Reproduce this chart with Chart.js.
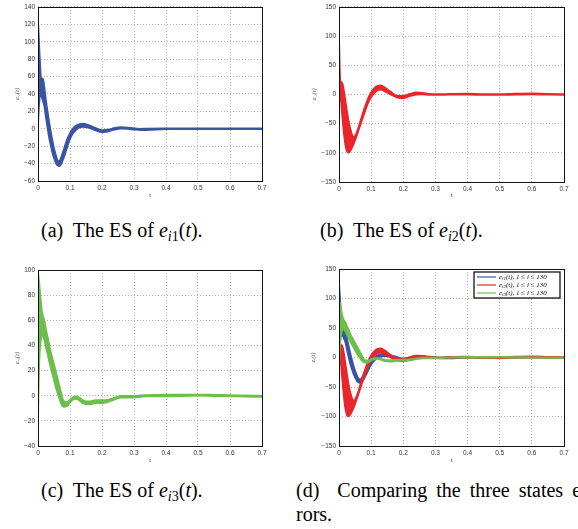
<!DOCTYPE html>
<html>
<head>
<meta charset="utf-8">
<script src="https://cdn.jsdelivr.net/npm/chart.js@4.4.1/dist/chart.umd.min.js"></script>
<style>
body{margin:0;width:578px;height:529px;overflow:hidden;background:#fff;position:relative;font-family:"Liberation Serif","Times New Roman",serif;}
.box{position:absolute}
.cap{position:absolute;font-size:20px;line-height:24px;white-space:nowrap;color:#000}
.cap sub{font-size:14px;vertical-align:-4px;line-height:0}
</style>
</head>
<body>
<div class="box" style="left:0;top:0;width:270px;height:200px"><canvas id="ga"></canvas></div>
<div class="box" style="left:290px;top:0;width:282px;height:200px"><canvas id="gb"></canvas></div>
<div class="box" style="left:0;top:250px;width:270px;height:215px"><canvas id="gc"></canvas></div>
<div class="box" style="left:290px;top:250px;width:282px;height:215px"><canvas id="gd"></canvas></div>

<div class="cap" style="left:41px;top:218px">(a)&nbsp; The ES of <i>e</i><sub><i>i</i>1</sub>(<i>t</i>).</div>
<div class="cap" style="left:320px;top:218px">(b)&nbsp; The ES of <i>e</i><sub><i>i</i>2</sub>(<i>t</i>).</div>
<div class="cap" style="left:41px;top:478px">(c)&nbsp; The ES of <i>e</i><sub><i>i</i>3</sub>(<i>t</i>).</div>
<div class="cap" style="left:296px;top:478px;word-spacing:4px">(d)&nbsp; Comparing the three states e</div>
<div class="cap" style="left:296px;top:502px">rors.</div>

<script>
// time samples (s)
var t = [0, 0.002, 0.004, 0.006, 0.008, 0.01, 0.012, 0.016, 0.02, 0.025, 0.03, 0.035, 0.04, 0.045,
  0.05, 0.055, 0.06, 0.065, 0.07, 0.08, 0.09, 0.1, 0.11, 0.12, 0.13, 0.14, 0.16, 0.18, 0.2, 0.22,
  0.24, 0.26, 0.28, 0.3, 0.32, 0.34, 0.4, 0.45, 0.5, 0.55, 0.6, 0.65, 0.7];

// upper / lower envelope of the 130 error curves
var e1Up = [130, 112, 95, 80, 66, 55, 58, 57, 48, 33, 20, 8, -3, -13, -22, -29, -35, -37, -35, -24,
  -13, -5, 1, 4, 5.5, 6, 4, 1, -1.5, -1, 1, 2, 1.5, 0.5, 0, 0.3, 0.5, 0.5, 0.5, 0.5, 0.5, 0.5, 0.5];
var e1Lo = [0, 18, 30, 37, 40, 38, 36, 31, 25, 12, 0, -11, -20, -28, -34, -39, -42, -43, -42, -34,
  -23, -12, -5, -1, 1.5, 2, 1, -2, -4, -3, -1, 0, -0.3, -1, -1.5, -1.5, -0.5, -0.5, -0.5, -0.5, -0.5, -0.5, -0.5];

var e2Up = [110, 60, 25, 22, 21, 20, 17, 5, -10, -28, -45, -58, -68, -73, -71, -65, -57, -48, -39, -22,
  -7, 4, 11, 15, 15.5, 13, 5, -2, -2.5, 1, 3.5, 3, 1, 0.5, 0.5, 1, 1.5, 0.5, 0.5, 1.5, 2, 1, 0.5];
var e2Lo = [-17, -8, -5, -12, -25, -38, -50, -72, -88, -98, -100, -97, -92, -86, -79, -71, -63, -55, -47, -31,
  -16, -5, 2, 7, 8, 6, 0, -5, -6.5, -3, -0.5, 0, -1, -1, -1, -0.5, -0.5, -1, -1, -0.5, 0, -0.5, -1];

var e3Up = [100, 95, 90, 84, 78, 73, 68, 63, 60, 53, 47, 41, 35, 30, 25, 20, 15, 10, 5, -4,
  -5, -3, -1, -0.5, -1.5, -3.5, -4.5, -3.5, -3.5, -3, -1.5, 0, 0, 0, 0.3, 0.5, 1, 1, 1, 0.8, 0.5, 0.3, 0];
var e3Lo = [-28, 5, 25, 36, 42, 46, 48, 47, 44, 38, 33, 27, 22, 17, 12, 7, 3, -1, -5, -9,
  -8.5, -5.5, -3, -2.5, -4, -6, -7, -6, -6, -5, -3, -1.5, -1.5, -1.5, -1, -0.5, -0.5, -0.3, 0, -0.3, -0.5, -0.8, -1];

var names = ['e|i1|(t), 1 ≤ i ≤ 130', 'e|i2|(t), 1 ≤ i ≤ 130', 'e|i3|(t), 1 ≤ i ≤ 130'];
var blue = '#3a54a4', red = '#e9262c', green = '#6dbe4b';

function pts(arr) {
  return t.map(function (x, i) { return {x: x, y: arr[i]}; });
}

function band(col, up, lo) {
  var base = {borderColor: col, backgroundColor: col, borderWidth: 1.6, pointRadius: 0,
    cubicInterpolationMode: 'monotone'};
  return [
    Object.assign({data: pts(up), fill: false}, base),
    Object.assign({data: pts(lo), fill: '-1'}, base)
  ];
}

var tickFont = {family: 'Liberation Sans', size: 6.5};

function scales(yMin, yMax, yStep, yTitle, yW, xH, titleOff) {
  return {
    x: {
      type: 'linear', min: 0, max: 0.7,
      ticks: {stepSize: 0.1, font: tickFont, color: '#333', padding: 3, maxRotation: 0},
      grid: {color: '#9a9a9a', lineWidth: 0.8, drawTicks: false},
      border: {display: false, dash: [1, 2]},
      title: {display: true, text: 't', font: {family: 'Liberation Sans', size: 6}, color: '#333',
        padding: {top: 0, bottom: 1}},
      afterFit: function (s) { s.height = xH; }
    },
    y: {
      min: yMin, max: yMax,
      ticks: {stepSize: yStep, font: tickFont, color: '#333', padding: 3,
        callback: function (v) { return String(v).replace('-', '\u2212'); }},
      grid: {color: '#9a9a9a', lineWidth: 0.8, drawTicks: false},
      border: {display: false, dash: [1, 2]},
      title: {display: true, text: yTitle, font: {family: 'Liberation Serif', size: 6.5, style: 'italic'},
        color: '#555', padding: {top: titleOff, bottom: 0}},
      afterFit: function (s) { s.width = yW; }
    }
  };
}

var boxPlugin = {
  id: 'box',
  afterDraw: function (c) {
    var a = c.chartArea, x = c.ctx;
    x.save();
    x.strokeStyle = '#111';
    x.lineWidth = 1;
    x.strokeRect(Math.round(a.left) + 0.5, Math.round(a.top) + 0.5,
      Math.round(a.right - a.left), Math.round(a.bottom - a.top));
    x.restore();
  }
};

// legend box for the comparison plot
var legendPlugin = {
  id: 'boxLegend',
  afterDraw: function (c) {
    var a = c.chartArea, x = c.ctx;
    var cols = [blue, red, green];
    var w = 86, h = 26;
    var l = a.right - 4 - w, tp = a.top + 3;
    x.save();
    x.fillStyle = '#fff';
    x.fillRect(l, tp, w, h);
    x.strokeStyle = '#000';
    x.lineWidth = 1.2;
    x.strokeRect(l, tp, w, h);
    names.forEach(function (n, i) {
      var y = tp + 5 + i * 8;
      x.strokeStyle = cols[i];
      x.lineWidth = 1.2;
      x.beginPath(); x.moveTo(l + 3, y); x.lineTo(l + 22, y); x.stroke();
      var p = n.split('|');
      var px = l + 25;
      x.fillStyle = '#111';
      x.textBaseline = 'middle';
      x.font = 'italic 7px "Liberation Serif"';
      x.fillText(p[0], px, y); px += x.measureText(p[0]).width;
      x.font = 'italic 5px "Liberation Serif"';
      x.fillText(p[1], px, y + 1.5); px += x.measureText(p[1]).width;
      x.font = 'italic 7px "Liberation Serif"';
      x.fillText(p[2], px, y);
    });
    x.restore();
  }
};

function make(id, datasets, sc, pad, extra) {
  return new Chart(document.getElementById(id), {
    type: 'line',
    data: {datasets: datasets},
    options: {
      responsive: true, maintainAspectRatio: false, animation: false,
      layout: {padding: pad},
      plugins: {legend: {display: false}, tooltip: {enabled: false}},
      scales: sc
    },
    plugins: [boxPlugin].concat(extra || [])
  });
}

make('ga', band(blue, e1Up, e1Lo), scales(-60, 140, 20, 'e\u1d62\u2081(t)', 38, 19, 13), {top: 4, right: 8});
make('gb', band(red, e2Up, e2Lo), scales(-150, 150, 50, 'e\u1d62\u2082(t)', 49, 18, 20), {top: 4, right: 8});
make('gc', band(green, e3Up, e3Lo), scales(-40, 100, 20, 'e\u1d62\u2083(t)', 38, 19, 13), {top: 20, right: 8});
make('gd', band(green, e3Up, e3Lo).concat(band(red, e2Up, e2Lo), band(blue, e1Up, e1Lo)),
  scales(-150, 150, 50, 'e\u1d62(t)', 49, 19, 19), {top: 19, right: 8}, [legendPlugin]);
</script>
</body>
</html>
